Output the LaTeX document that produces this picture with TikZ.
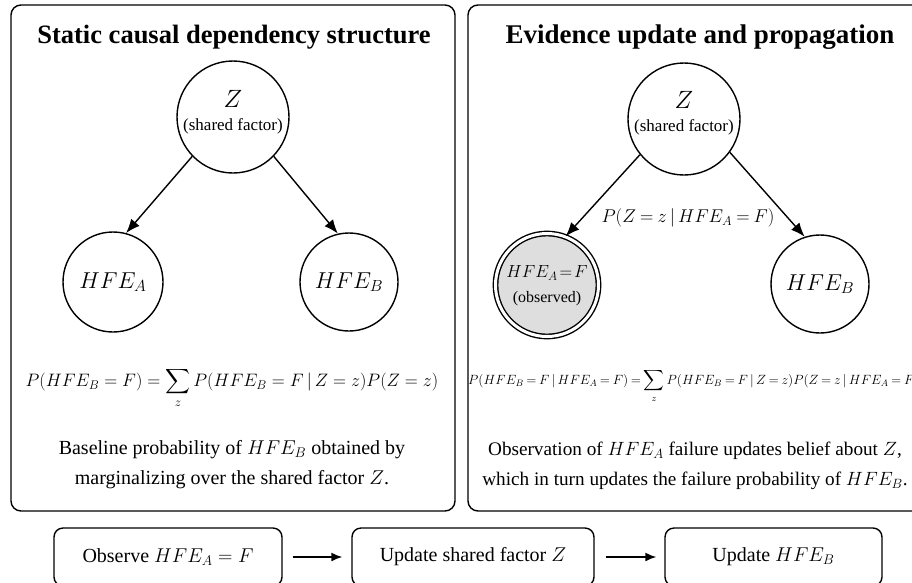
\RequirePackage{fix-cm}
\documentclass[tikz,border=0pt]{standalone}
\usepackage{amsmath}
\usepackage{fontspec}
\setmainfont{Liberation Serif}
\usetikzlibrary{arrows.meta,positioning}

\newcommand{\fs}[2]{\fontsize{#1}{#2}\selectfont}
\newcommand{\given}{\,|\,}

\begin{document}
\begin{tikzpicture}[x=1pt, y=-1pt,
    panel/.style={draw, line width=1.4pt, rounded corners=10pt},
    ptitle/.style={font=\fs{27}{30}\bfseries},
    var/.style={draw, circle, line width=1.4pt, inner sep=0pt, align=center},
    link/.style={line width=1.4pt, -{Latex[length=14pt, width=11pt]}},
    note/.style={align=center, font=\fs{20}{30}},
    stepbox/.style={draw, line width=1.4pt, rounded corners=9pt, minimum height=58pt, font=\fs{20}{24}},
    flow/.style={line width=1.6pt, -{Latex[length=11pt, width=9pt]}}]
  \useasboundingbox (0,0) rectangle (912,582);
  \fill[white] (0,0) rectangle (912,582);

  % left panel
  \draw[panel] (11,5) rectangle (455,511);
  \node[ptitle, font=\fs{26.5}{30}\bfseries] (tleft) at (234,37) {Static causal dependency structure};
  \node[var, minimum size=112pt] (zl) at (233,117) {};
  \node[font=\fs{25}{25}] (zlname) at (233,99) {$Z$};
  \node[font=\fs{17}{20}] (zltext) at (233,126) {(shared factor)};
  \node[var, minimum size=100pt, font=\fs{23}{24}] (al) at (113,282) {$HFE_A$};
  \node[var, minimum size=98pt, font=\fs{23}{24}] (bl) at (349,282) {$HFE_B$};
  \draw[link] (zl.224) -- (al.75);
  \draw[link] (zl.316) -- (bl.103);
  \node[font=\fs{18}{24}] (fleft) at (232,388)
    {$\displaystyle P(HFE_B = F) = \sum_z P(HFE_B = F \given Z = z)P(Z = z)$};
  \node[note] (nleft) at (232,465)
    {Baseline probability of $HFE_B$ obtained by\\marginalizing over the shared factor $Z$.};

  % right panel
  \draw[panel] (468,5) rectangle (922,511);
  \node[ptitle] (tright) at (700,37) {Evidence update and propagation};
  \node[var, minimum size=112pt] (zr) at (684,119) {};
  \node[font=\fs{25}{25}] (zrname) at (684,100) {$Z$};
  \node[font=\fs{17}{20}] (zrtext) at (684,127) {(shared factor)};
  \node[var, minimum size=103pt, fill=black!13, double=white, double distance=3pt] (obs) at (547,285) {};
  \node[font=\fs{17.5}{20}] (obsname) at (547,273) {$HFE_A \!=\! F$};
  \node[font=\fs{16}{20}] (obstext) at (547,299) {(observed)};
  \node[var, minimum size=98pt, font=\fs{23}{24}] (br) at (820,284) {$HFE_B$};
  \draw[link] (zr.219) -- (obs.69);
  \draw[link] (zr.324) -- (br.108);
  \node[font=\fs{18.5}{24}] (upd) at (688,218)
    {\thickmuskip=4mu $P(Z = z \given HFE_A = F)$};
  \node[font=\fs{13.4}{20}, anchor=west, inner sep=0pt] (fright) at (468,386)
    {\thickmuskip=3.5mu $\displaystyle P(HFE_B = F \given HFE_A = F) = \sum_z P(HFE_B = F \given Z = z)P(Z = z \given HFE_A = F)$};
  \node[note, font=\fs{19.2}{30}] (nright) at (695,466)
    {Observation of $HFE_A$ failure updates belief about $Z$,\\which in turn updates the failure probability of $HFE_B$.};

  % bottom flow
  \node[stepbox, minimum width=228pt] (obsstep) at (168,557) {Observe $HFE_A = F$};
  \node[stepbox, minimum width=242pt] (zstep) at (473,557) {Update shared factor $Z$};
  \node[stepbox, minimum width=217pt] (bstep) at (773.5,557) {Update $HFE_B$};
  \draw[flow] ([xshift=10pt]obsstep.east) -- ([xshift=-9pt]zstep.west);
  \draw[flow] ([xshift=11pt]zstep.east) -- ([xshift=-8pt]bstep.west);
\end{tikzpicture}
\end{document}
